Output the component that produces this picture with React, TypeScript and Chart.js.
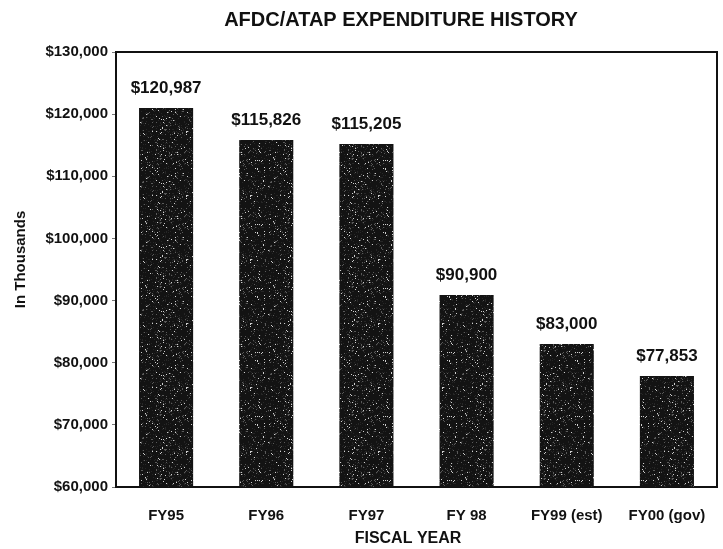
import React, { useEffect, useRef } from "react";
import { Chart, registerables } from "chart.js";

Chart.register(...registerables);

const categories = ["FY95", "FY96", "FY97", "FY 98", "FY99 (est)", "FY00 (gov)"];
const expenditures = [120987, 115826, 115205, 90900, 83000, 77853];
const valueLabels = ["$120,987", "$115,826", "$115,205", "$90,900", "$83,000", "$77,853"];
const chartTitle = "AFDC/ATAP EXPENDITURE HISTORY";
const xTitle = "FISCAL YEAR";
const yTitle = "In Thousands";
const yMin = 60000;
const yMax = 130000;
const yStep = 10000;

function speckHash(x: number, y: number): number {
  let h = (x * 374761393 + y * 668265263) | 0;
  h = (h ^ (h >>> 13)) * 1274126177;
  h = h ^ (h >>> 16);
  return (h >>> 0) % 1000;
}

function makePattern(): CanvasPattern | string {
  const size = 64;
  const pc = document.createElement("canvas");
  pc.width = size;
  pc.height = size;
  const g = pc.getContext("2d");
  if (!g) return "#161616";
  g.fillStyle = "#131313";
  g.fillRect(0, 0, size, size);
  for (let y = 0; y < size; y++) {
    for (let x = 0; x < size; x++) {
      const h = speckHash(x, y);
      if (h < 22) {
        g.fillStyle = "#d0d0d0";
        g.fillRect(x, y, 1, 1);
      } else if (h < 70) {
        g.fillStyle = "#5a5a5a";
        g.fillRect(x, y, 1, 1);
      } else if (h < 160) {
        g.fillStyle = "#262626";
        g.fillRect(x, y, 1, 1);
      }
    }
  }
  const ctx = document.createElement("canvas").getContext("2d");
  const p = ctx ? ctx.createPattern(pc, "repeat") : null;
  return p || "#161616";
}

const textPlugin = {
  id: "customText",
  afterDatasetsDraw(chart: any) {
    const { ctx, chartArea } = chart;
    ctx.save();
    // frame
    ctx.strokeStyle = "#111";
    ctx.lineWidth = 2;
    ctx.beginPath();
    ctx.moveTo(chartArea.left, chartArea.top);
    ctx.lineTo(chartArea.right, chartArea.top);
    ctx.lineTo(chartArea.right, chartArea.bottom);
    ctx.stroke();
    // value labels
    const meta = chart.getDatasetMeta(0);
    ctx.fillStyle = "#111";
    ctx.font = "bold 17px 'Liberation Sans', Arial, sans-serif";
    ctx.textAlign = "center";
    ctx.textBaseline = "middle";
    meta.data.forEach((bar: any, i: number) => {
      ctx.fillText(valueLabels[i], bar.x, bar.y - 20);
    });
    // main title
    ctx.font = "bold 20px 'Liberation Sans', Arial, sans-serif";
    ctx.fillText(chartTitle, 401, 20);
    // x title
    ctx.font = "bold 16px 'Liberation Sans', Arial, sans-serif";
    ctx.fillText(xTitle, 408, 539);
    // y title
    ctx.translate(21, (chartArea.top + chartArea.bottom) / 2 - 10);
    ctx.rotate(-Math.PI / 2);
    ctx.font = "bold 15px 'Liberation Sans', Arial, sans-serif";
    ctx.fillText(yTitle, 0, 0);
    ctx.restore();
  },
};

export default function App() {
  const ref = useRef<HTMLCanvasElement | null>(null);
  useEffect(() => {
    if (!ref.current) return;
    const fill = makePattern();
    const chart = new Chart(ref.current, {
      type: "bar",
      data: {
        labels: categories,
        datasets: [
          {
            data: expenditures,
            backgroundColor: fill as any,
            borderWidth: 0,
            barPercentage: 0.54,
            categoryPercentage: 1,
          },
        ],
      },
      options: {
        animation: false,
        responsive: false,
        maintainAspectRatio: false,
        layout: { padding: { top: 52, right: 6, left: 0, bottom: 0 } },
        plugins: {
          legend: { display: false },
          tooltip: { enabled: false },
          title: { display: false },
        },
        scales: {
          x: {
            grid: { display: false },
            border: { display: true, color: "#111", width: 2 },
            ticks: {
              color: "#111",
              padding: 12,
              font: { family: "'Liberation Sans', Arial, sans-serif", size: 15, weight: "bold" },
            },
            afterFit(scale: any) {
              scale.height = 62;
            },
          },
          y: {
            min: yMin,
            max: yMax,
            grid: {
              display: true,
              drawOnChartArea: false,
              drawTicks: true,
              tickLength: 4,
              color: "#777",
            },
            border: { display: true, color: "#111", width: 2 },
            ticks: {
              stepSize: yStep,
              color: "#111",
              padding: 4,
              font: { family: "'Liberation Sans', Arial, sans-serif", size: 15, weight: "bold" },
              callback: (v: any) => "$" + Number(v).toLocaleString("en-US"),
            },
            afterFit(scale: any) {
              scale.width = 116;
            },
          },
        },
      },
      plugins: [textPlugin],
    });
    return () => chart.destroy();
  }, []);
  return (
    <div style={{ position: "fixed", left: 0, top: 0, width: 723, height: 549, background: "#fff" }}>
      <canvas ref={ref} width={723} height={549} style={{ width: 723, height: 549, display: "block" }} />
    </div>
  );
}
